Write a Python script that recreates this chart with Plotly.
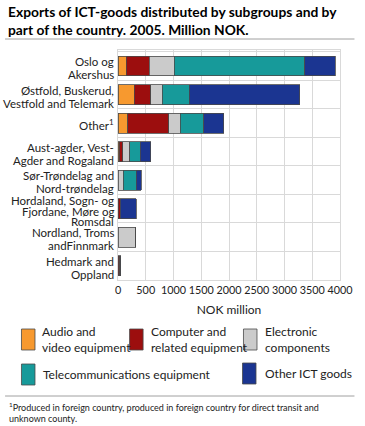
import plotly.graph_objects as go

regions = [
    "Oslo og Akershus",
    "Østfold, Buskerud, Vestfold and Telemark",
    "Other1",
    "Aust-agder, Vest-Agder and Rogaland",
    "Sør-Trøndelag and Nord-trøndelag",
    "Hordaland, Sogn- og Fjordane, Møre og Romsdal",
    "Nordland, Troms andFinnmark",
    "Hedmark and Oppland",
]
region_label_lines = [
    ["Oslo og", "Akershus"],
    ["Østfold, Buskerud,", "Vestfold and Telemark"],
    ["Other<sup>1</sup>"],
    ["Aust-agder, Vest-", "Agder and Rogaland"],
    ["Sør-Trøndelag and", "Nord-trøndelag"],
    ["Hordaland, Sogn- og", "Fjordane, Møre og", "Romsdal"],
    ["Nordland, Troms", "andFinnmark"],
    ["Hedmark and", "Oppland"],
]
audio = [150, 290, 174, 20, 0, 5, 0, 5]
computer = [413, 296, 737, 67, 0, 35, 0, 25]
electronic = [453, 209, 209, 122, 99, 0, 318, 8]
telecom = [2353, 492, 423, 191, 231, 0, 0, 4]
other_ict = [544, 1990, 360, 186, 88, 290, 0, 4]

series_names = ["Audio and<br>video equipment", "Computer and<br>related equipment",
                "Electronic<br>components", "Telecommunications equipment", "Other ICT goods"]
series_vals = [audio, computer, electronic, telecom, other_ict]
colors = ["#F7992F", "#9C0E0E", "#CBCBCB", "#179A9A", "#1B3591"]
x_ticks = [0, 500, 1000, 1500, 2000, 2500, 3000, 3500, 4000]

FONT = "Lato"
TXT = "#222222"
fig = go.Figure()
for name, vals, col in zip(series_names, series_vals, colors):
    fig.add_trace(go.Bar(
        y=regions, x=vals, name=name, orientation="h",
        marker=dict(color=col, line=dict(color="#4a4a4a", width=0.8)),
        showlegend=False,
    ))

W, H = 365, 426
L, R, T, B = 118, 348, 50, 280

def px(x):
    return (x - L) / (R - L)

def py(y):
    return (B - y) / (B - T)

shapes = []
annotations = []
# title rule and footnote rule
for yy in (39, 396):
    shapes.append(dict(type="line", xref="paper", yref="paper",
                       x0=px(1), x1=px(363), y0=py(yy), y1=py(yy),
                       line=dict(color="#a0a0a0", width=1)))

# category labels, line by line
offsets = {1: [1.5], 2: [-4.5, 8.5], 3: [-8, 2.5, 13]}
for cat, lines in zip(regions, region_label_lines):
    for ln, off in zip(lines, offsets[len(lines)]):
        annotations.append(dict(xref="paper", yref="y", x=px(115), y=cat, yshift=-off,
                                text=ln, showarrow=False, xanchor="right", yanchor="middle",
                                borderpad=0,
                                font=dict(family=FONT, size=11.5, color=TXT)))

legend_items = [
    (0, 18, 329, 37), (1, 130, 329, 150), (2, 248, 329, 268),
    (3, 18, 364, 38), (4, 247, 363, 268),
]
for idx, x0, y0, tx in legend_items:
    shapes.append(dict(type="rect", xref="paper", yref="paper",
                       x0=px(x0), x1=px(x0 + 14), y0=py(y0), y1=py(y0 + 21),
                       fillcolor=colors[idx], line=dict(color="#4a4a4a", width=0.8)))
    annotations.append(dict(xref="paper", yref="paper", x=px(tx), y=py(y0 + 10.5),
                            text=series_names[idx], showarrow=False,
                            xanchor="left", yanchor="middle", align="left",
                            font=dict(family=FONT, size=12, color=TXT)))

annotations.append(dict(xref="paper", yref="paper", x=px(2), y=py(1),
                        text="<b>Exports of ICT-goods distributed by subgroups and by<br>part of the country. 2005. Million NOK.</b>",
                        showarrow=False, xanchor="left", yanchor="top", align="left",
                        font=dict(family=FONT, size=13.8, color="#000000")))
annotations.append(dict(xref="paper", yref="paper", x=px(3), y=py(399),
                        text="<sup>1</sup>Produced in foreign country, produced in foreign country for direct transit and<br>unknown county.",
                        showarrow=False, xanchor="left", yanchor="top", align="left",
                        font=dict(family=FONT, size=9, color=TXT)))

fig.update_layout(
    barmode="stack",
    bargap=0.3,
    width=W, height=H,
    margin=dict(l=L, r=W - R, t=T, b=H - B, pad=0),
    paper_bgcolor="white", plot_bgcolor="white",
    font=dict(family=FONT, size=12, color=TXT),
    shapes=shapes, annotations=annotations,
    xaxis=dict(range=[0, 4000], tickvals=x_ticks, ticktext=[str(v) for v in x_ticks],
               showgrid=True, gridcolor="#d9d9d9", gridwidth=1,
               showline=True, linecolor="#d9d9d9", mirror=True, zeroline=False,
               tickfont=dict(family=FONT, size=10.8, color=TXT), tickangle=0,
               title=dict(text="NOK million", font=dict(family=FONT, size=12, color=TXT), standoff=10),
               ticks="", fixedrange=True),
    yaxis=dict(categoryorder="array", categoryarray=regions, autorange="reversed",
               tickson="boundaries", showgrid=True, gridcolor="#d9d9d9", gridwidth=1,
               showline=True, linecolor="#d9d9d9", mirror=True,
               showticklabels=False, ticks="", fixedrange=True),
)

fig.write_html("out.html", config={"displayModeBar": False},
               post_script="document.body.style.margin='0';document.body.style.overflow='hidden';")
